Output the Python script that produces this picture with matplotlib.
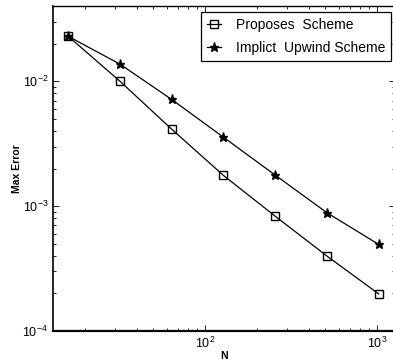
import numpy as np
import matplotlib
matplotlib.use("Agg")
import matplotlib.pyplot as plt

plt.rcParams["font.family"] = ["Liberation Sans", "DejaVu Sans"]

# grid sizes and max errors for the two schemes
n_vals = [16, 32, 64, 128, 256, 512, 1024]
err_proposed = [2.29e-2, 1.00e-2, 4.13e-3, 1.76e-3, 8.3e-4, 3.98e-4, 1.98e-4]
err_upwind = [2.29e-2, 1.37e-2, 7.14e-3, 3.56e-3, 1.77e-3, 8.85e-4, 4.93e-4]

fig = plt.figure(figsize=(3.93, 3.64), dpi=100)
ax = fig.add_axes([53 / 393, 1 - 331 / 364, 342 / 393, 325 / 364])

ax.loglog(n_vals, err_proposed, "k-", marker="s", mfc="none", mec="k",
          ms=5.5, mew=1.0, lw=0.9, label="Proposes  Scheme")
ax.loglog(n_vals, err_upwind, "k-", marker="*", mfc="k", mec="k",
          ms=6.5, lw=0.9, label="Implict  Upwind Scheme")

ax.set_xlim(13.06, 1273)
ax.set_ylim(1e-4, 4e-2)

ax.tick_params(which="both", direction="in", top=True, right=True,
               labelsize=9, width=0.6)
ax.tick_params(which="major", length=4)
ax.tick_params(which="minor", length=2)
for s in ax.spines.values():
    s.set_linewidth(1.0)
ax.spines["bottom"].set_linewidth(1.6)
ax.spines["left"].set_linewidth(1.2)

ax.set_xlabel("N", fontsize=7.5, fontweight="bold", labelpad=0)
ax.set_ylabel("Max Error", fontsize=7.5, fontweight="bold", labelpad=0)

leg = ax.legend(loc="upper right", bbox_to_anchor=(1 - 4 / 342, 1 - 6 / 325),
                fontsize=10, handlelength=1.0, handletextpad=1.1,
                borderpad=0.4, labelspacing=0.7, fancybox=False,
                framealpha=1, borderaxespad=0)
leg.get_frame().set_edgecolor("k")
leg.get_frame().set_linewidth(0.9)

fig.savefig("out.png", dpi=100)
